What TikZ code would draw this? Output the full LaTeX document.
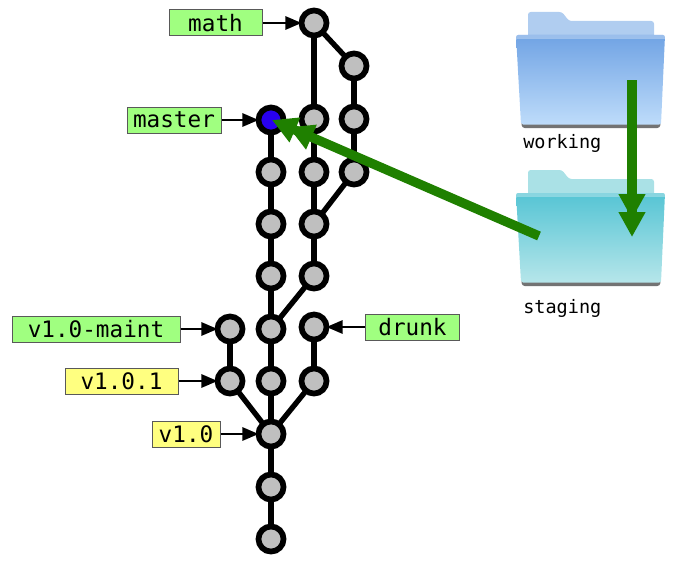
\documentclass[tikz,border=0pt]{standalone}
\usepackage{fontspec}
\setmonofont{DejaVu Sans Mono}
\usetikzlibrary{arrows.meta}
\definecolor{taggreen}{RGB}{160,255,128}
\definecolor{tagyellow}{RGB}{255,255,128}
\definecolor{arrowgreen}{RGB}{31,128,0}
\definecolor{blueback}{RGB}{176,205,240}
\definecolor{bluetop}{RGB}{112,163,228}
\definecolor{bluemid}{RGB}{143,187,242}
\definecolor{bluelow}{RGB}{190,220,250}
\definecolor{tealback}{RGB}{170,225,230}
\definecolor{tealtop}{RGB}{85,196,212}
\definecolor{tealmid}{RGB}{120,210,222}
\definecolor{teallow}{RGB}{182,230,234}
\tikzset{
  commit/.style={circle,draw=black,line width=4.3pt,fill=black!25,minimum size=18.8pt,inner sep=0pt,outer sep=0pt},
  parent/.style={line width=4pt},
  tag/.style={draw=black!65,line width=0.75pt,anchor=center,inner sep=0pt,minimum height=19.5pt,font=\fontsize{17}{17}\selectfont\ttfamily},
  branchtag/.style={tag,fill=taggreen},
  versiontag/.style={tag,fill=tagyellow},
  tagarrow/.style={line width=1.3pt,-{Triangle[length=12pt,width=10pt]}},
  bigarrow/.style={line width=7pt,arrowgreen,-{Triangle[length=18.75pt,width=19pt,sep=-5.25pt]Triangle[length=18.75pt,width=19pt]}},
  foldertext/.style={font=\fontsize{13.9}{14}\selectfont\ttfamily,anchor=west,inner sep=0pt},
}
% one folder, drawn at the position of the working folder
\newcommand{\folderdraw}[4]{
  \fill [#1,rounded corners=2pt] (528,40) -- (528,12) -- (562,12) -- (569,21) -- (654,21) -- (654,40) -- cycle;
  \fill [black!55,rounded corners=2pt] (521,118) -- (661,118) -- (660,128) -- (522,128) -- cycle;
  \shade [top color=#2,middle color=#3,bottom color=#4,rounded corners=1.5pt] (516,35) -- (665,35) -- (661,124.5) -- (521,124.5) -- cycle;
  \fill [white,opacity=0.3] (516,35) -- (665,35) -- (665,39) -- (516,39) -- cycle;
}
\begin{document}
\begin{tikzpicture}[x=0.75pt,y=0.75pt,yscale=-1,xscale=1]
\useasboundingbox (0,0) rectangle (684,560);

% folders
\begin{scope}
\folderdraw{blueback}{bluetop}{bluemid}{bluelow}
\end{scope}
\begin{scope}[shift={(0,158)}]
\folderdraw{tealback}{tealtop}{tealmid}{teallow}
\end{scope}
\node [foldertext] (workinglabel) at (523,143) {working};
\node [foldertext] (staginglabel) at (523,308) {staging};

% commits
\foreach \name/\x/\y in {a1/314/23,a2/354/66,b1/314/119,b2/354/119,c1/271/172,c2/314/172,c3/354/172,
    d1/271/224,d2/314/224,e1/271/276,e2/314/276,f1/230/329,f2/271/329,f3/314/327,
    g1/230/381,g2/271/381,g3/314/381,h1/271/434,i1/271/487,j1/271/539}
  \node [commit] (\name) at (\x,\y) {};
\node [commit,fill={rgb,255:red,40;green,0;blue,240}] (head) at (271,120) {};

% parents
\foreach \from/\to in {a1/b1,a1/a2,a2/b2,b1/c2,b2/c3,c3/d2,c2/d2,d2/e2,e2/f2,
    head/c1,c1/d1,d1/e1,e1/f2,f2/g2,g2/h1,h1/i1,i1/j1,f1/g1,g1/h1,f3/g3,g3/h1}
  \draw [parent] (\from) -- (\to);

% tags
\node [branchtag,minimum width=69.75pt] (math) at (215.5,23) {math};
\node [branchtag,minimum width=70.5pt] (master) at (174,120) {master};
\node [branchtag,minimum width=126pt] (maint) at (96,329) {v1.0-maint};
\node [branchtag,minimum width=70.5pt] (drunk) at (412.5,327) {drunk};
\node [versiontag,minimum width=84.75pt] (vmaint) at (121.5,381) {v1.0.1};
\node [versiontag,minimum width=51pt] (vone) at (186,434) {v1.0};

\draw [tagarrow] (math) -- (a1);
\draw [tagarrow] (master) -- (head);
\draw [tagarrow] (maint) -- (f1);
\draw [tagarrow] (drunk) -- (f3);
\draw [tagarrow] (vmaint) -- (g1);
\draw [tagarrow] (vone) -- (h1);

% the two green arrows
\coordinate (stagestart) at (539,236);
\coordinate (stageend) at (272,120);
\coordinate (workstart) at (632,80);
\coordinate (workend) at (632,237);
\draw [bigarrow] (workstart) -- (workend);
\draw [bigarrow] (stagestart) -- (stageend);

\end{tikzpicture}
\end{document}
